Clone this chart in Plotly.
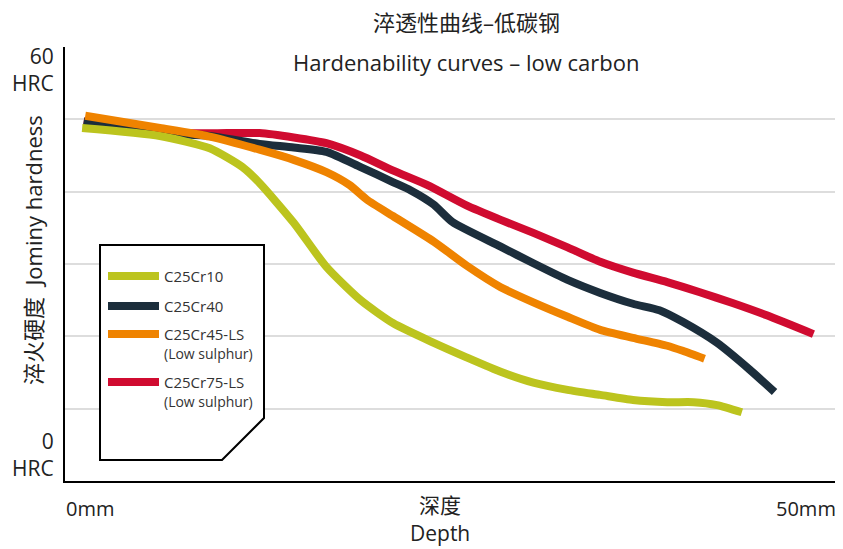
import plotly.graph_objects as go

# depth in mm, hardness in HRC
depth_cr10 = [1.1, 6.1, 9.3, 11.4, 12.5, 14.7, 16.8, 19.0, 21.1, 23.7, 25.8, 28.0,
              30.1, 32.3, 34.4, 36.5, 38.7, 40.4, 41.9, 43.5]
hrc_cr10 = [48.8, 47.7, 46.0, 43.4, 41.2, 35.7, 29.6, 25.0, 21.8, 19.1, 17.1, 15.1,
            13.6, 12.6, 11.9, 11.2, 10.9, 10.9, 10.5, 9.5]

depth_cr40 = [1.2, 6.1, 9.3, 12.5, 14.7, 16.8, 19.0, 21.1, 22.2, 23.7, 24.9, 28.0,
              30.1, 32.3, 34.4, 36.5, 38.2, 39.7, 41.9, 44.0, 45.6]
hrc_cr40 = [49.7, 48.1, 47.7, 46.6, 46.1, 45.5, 43.4, 41.3, 40.2, 38.2, 35.8, 32.4,
            30.1, 27.8, 26.0, 24.5, 23.6, 22.0, 19.1, 15.4, 12.3]

depth_cr45 = [1.3, 6.1, 9.3, 12.5, 14.7, 16.8, 18.3, 19.4, 21.1, 23.7, 25.8, 28.0,
              30.1, 32.3, 34.4, 36.5, 38.7, 39.7, 41.1]
hrc_cr45 = [50.5, 48.8, 47.6, 45.8, 44.4, 42.7, 40.9, 38.9, 36.6, 33.1, 29.8, 26.8,
            24.7, 22.7, 20.9, 19.8, 18.7, 18.0, 16.9]

depth_cr75 = [1.2, 7.8, 10.4, 12.5, 14.7, 16.8, 19.0, 21.1, 23.3, 25.8, 28.0, 30.1,
              32.3, 34.4, 36.5, 38.7, 40.8, 42.9, 45.1, 48.1]
hrc_cr75 = [49.7, 48.1, 48.1, 48.1, 47.5, 46.7, 45.0, 42.9, 40.9, 38.1, 36.1, 34.3,
            32.3, 30.3, 28.8, 27.5, 26.1, 24.6, 22.9, 20.3]

grades = ["C25Cr10", "C25Cr40", "C25Cr45-LS", "C25Cr75-LS"]
notes = ["", "", "(Low sulphur)", "(Low sulphur)"]
colors = ["#BCC41E", "#1C2E3C", "#EF8300", "#D00B30"]

FONT = "Open Sans, Noto Sans CJK SC, sans-serif"
TXT = "#222222"

# reference plot area in pixels: x 65..843, y 47..481
def px(x):
    return (x - 65) / 778

def py(y):
    return (481 - y) / 434


fig = go.Figure()

series = [
    (depth_cr75, hrc_cr75, colors[3]),
    (depth_cr40, hrc_cr40, colors[1]),
    (depth_cr10, hrc_cr10, colors[0]),
    (depth_cr45, hrc_cr45, colors[2]),
]
for xs, ys, c in series:
    fig.add_trace(go.Scatter(
        x=xs, y=ys, mode="lines",
        line=dict(color=c, width=8, shape="spline", smoothing=0.6),
        showlegend=False, hoverinfo="skip"
    ))

# page body has an 8px margin, so the figure is 8px smaller each way
fig.update_layout(
    width=835, height=541,
    margin=dict(l=57, r=0, t=39, b=68),
    paper_bgcolor="white", plot_bgcolor="white",
    font=dict(family=FONT, color=TXT),
)

fig.update_xaxes(
    range=[0, 50], showgrid=False, zeroline=False,
    showticklabels=False, ticks="",
    showline=True, linecolor="black", linewidth=2
)
fig.update_yaxes(
    range=[0, 60], tickvals=[10, 20, 30, 40, 50],
    showgrid=True, gridcolor="#DDDDDD", gridwidth=1.5,
    zeroline=False, showticklabels=False, ticks="",
    showline=True, linecolor="black", linewidth=2
)

# legend box with cut corner
box = "M {a},{b} L {c},{b} L {c},{d} L {e},{f} L {a},{f} Z".format(
    a=px(100), b=py(245), c=px(264), d=py(418), e=px(222), f=py(460))
fig.add_shape(type="path", path=box, xref="paper", yref="paper",
              line=dict(color="black", width=2), fillcolor="white", layer="above")

swatch_y = [276, 306, 334, 382]
for name, note, c, y in zip(grades, notes, colors, swatch_y):
    fig.add_shape(type="line", xref="paper", yref="paper",
                  x0=px(108), x1=px(159), y0=py(y), y1=py(y),
                  line=dict(color=c, width=8), layer="above")
    fig.add_annotation(text=name, xref="paper", yref="paper",
                       x=px(162), y=py(y), xanchor="left", yanchor="middle",
                       showarrow=False, font=dict(size=15, color="#333333"))
    if note:
        fig.add_annotation(text=note, xref="paper", yref="paper",
                           x=px(162), y=py(y + 19), xanchor="left", yanchor="middle",
                           showarrow=False, font=dict(size=14, color="#333333"))

texts = [
    ("淬透性曲线–低碳钢", 466, 22, 22, "center"),
    ("Hardenability curves – low carbon", 466, 62, 22, "center"),
    ("60<br>HRC", 56, 69, 21, "right"),
    ("0<br>HRC", 56, 454, 21, "right"),
    ("0mm", 90, 508, 20, "center"),
    ("深度", 440, 505, 21, "center"),
    ("Depth", 440, 533, 21, "center"),
    ("50mm", 806, 508, 20, "center"),
]
for t, x, y, s, anc in texts:
    fig.add_annotation(text=t, xref="paper", yref="paper", x=px(x), y=py(y),
                       xanchor=anc, yanchor="middle", align=anc, showarrow=False,
                       font=dict(size=s, color=TXT))

fig.add_annotation(text="淬火硬度  Jominy hardness", xref="paper", yref="paper",
                   x=px(33), y=py(250), xanchor="center", yanchor="middle",
                   textangle=-90, showarrow=False, font=dict(size=22, color=TXT))

fig.write_html("out.html")
